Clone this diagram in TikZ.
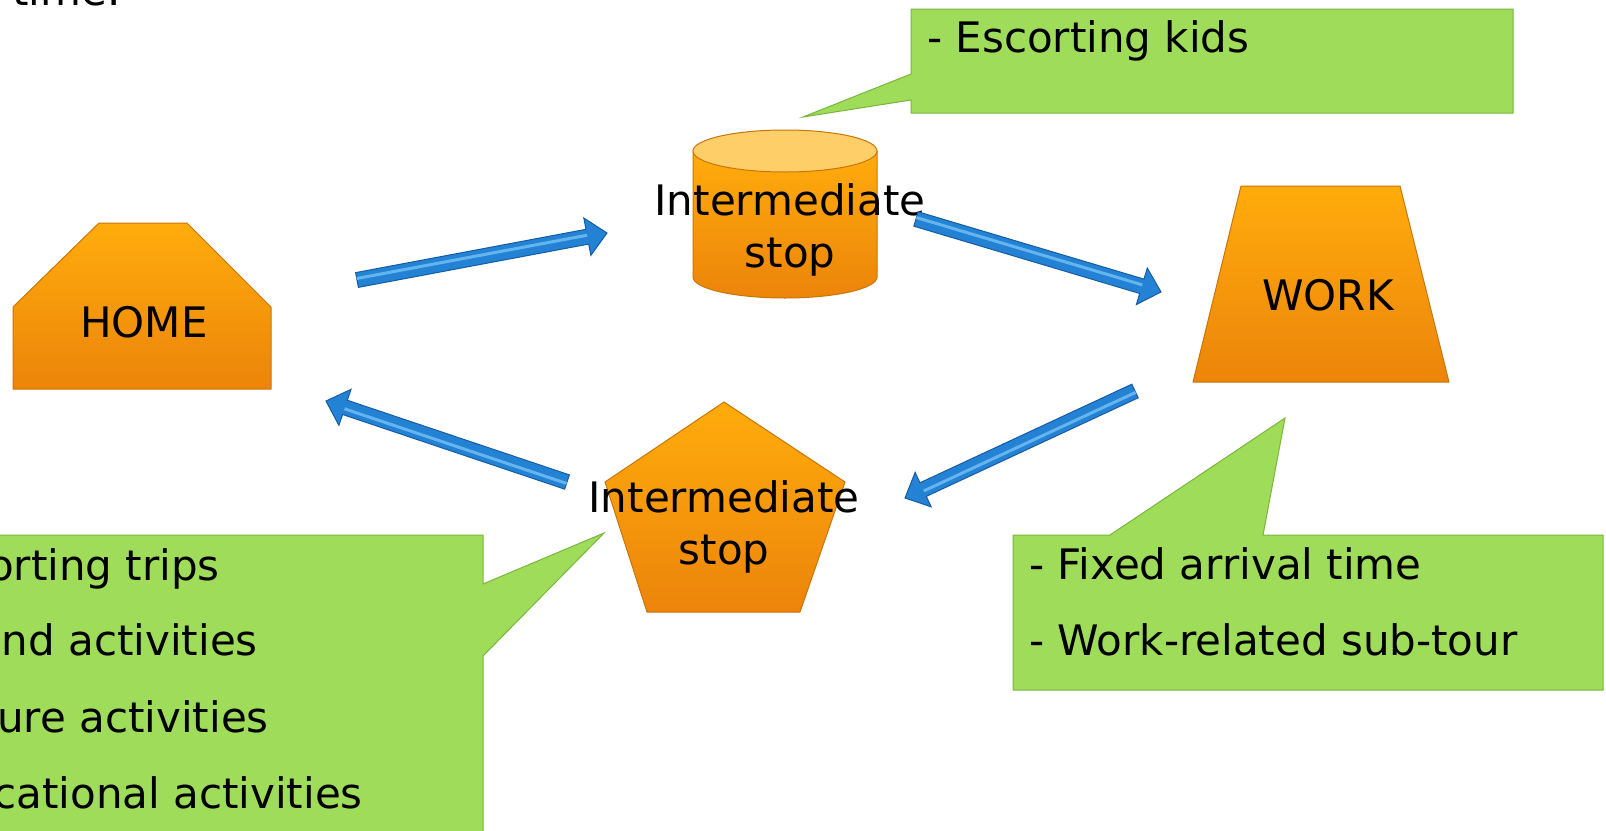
\documentclass[tikz,border=0pt]{standalone}
\usepackage{fontspec}
\setmainfont{DejaVu Sans}
\usetikzlibrary{calc}
\definecolor{orTop}{RGB}{255,172,12}
\definecolor{orBot}{RGB}{236,132,10}
\definecolor{orEdge}{RGB}{200,118,8}
\definecolor{cylTop}{RGB}{254,206,104}
\definecolor{grFill}{RGB}{158,220,90}
\definecolor{grEdge}{RGB}{122,182,62}
\definecolor{arBlue}{RGB}{36,130,212}
\definecolor{arDark}{RGB}{22,92,165}
\definecolor{arLight}{RGB}{100,180,238}
\tikzset{
  orshape/.style={top color=orTop, bottom color=orBot, draw=orEdge, line width=1pt, line join=round},
  callout/.style={fill=grFill, draw=grEdge, line width=1pt, line join=miter},
  lbl/.style={inner sep=0pt, font=\fontsize{42}{52}\selectfont},
  arrowbody/.style={fill=arBlue, draw=arDark, line width=1pt, line join=miter},
  arrowhi/.style={draw=arLight, line width=3pt, line cap=butt},
}
\newcommand\blockarrow[2]{%
  \coordinate (#1-hb) at ($(#2)!20pt!(#1)$);
  \filldraw[arrowbody] ($(#1)!7.5pt!90:(#2)$) -- ($(#1-hb)!7.5pt!90:(#2)$) -- ($(#1-hb)!19pt!90:(#2)$) -- (#2) -- ($(#1-hb)!19pt!-90:(#2)$) -- ($(#1-hb)!7.5pt!-90:(#2)$) -- ($(#1)!7.5pt!-90:(#2)$) -- cycle;
  \draw[arrowhi] ($(#1)!1.5pt!90:(#2)$) -- ($(#1-hb)!1.5pt!90:(#2)$);
}
\begin{document}
\begin{tikzpicture}[x=1pt,y=-1pt]
\useasboundingbox (0,0) rectangle (1606,830);
\fill[white] (0,0) rectangle (1606,830);
\clip (0,0) rectangle (1606,830);

% top-left cut text
\node[lbl, anchor=base west] (timetxt) at (12,5) {time.};

% callouts
\filldraw[callout] (911,9) -- (1513,9) -- (1513,113) -- (911,113) -- (911,100) -- (803,117) -- (911,74) -- cycle;
\node[lbl, anchor=base west] (kids) at (927,52) {- Escorting kids};

\filldraw[callout] (-10,535) -- (483,535) -- (483,584) -- (604,533) -- (483,656) -- (483,840) -- (-10,840) -- cycle;
\node[lbl, anchor=base east] (b1) at (220,580) {orting trips};
\node[lbl, anchor=base east] (b2) at (258,655) {nd activities};
\node[lbl, anchor=base east] (b3) at (269,732) {ure activities};
\node[lbl, anchor=base east] (b4) at (363,808) {cational activities};

\filldraw[callout] (1013,535) -- (1110,535) -- (1285,418) -- (1263,535) -- (1603,535) -- (1603,690) -- (1013,690) -- cycle;
\node[lbl, anchor=base west] (c1) at (1029,579) {- Fixed arrival time};
\node[lbl, anchor=base west] (c2) at (1029,655) {- Work-related sub-tour};

% HOME
\draw[orshape] (13,389) -- (13,307) -- (99,223) -- (187,223) -- (271,307) -- (271,389) -- cycle;
\node[lbl, anchor=base] (home) at (144,337) {HOME};

% cylinder stop
\draw[orshape] (693,151) -- (693,277) .. controls (693,288.6) and (734.2,298) .. (785,298) .. controls (835.8,298) and (877,288.6) .. (877,277) -- (877,151) -- cycle;
\filldraw[fill=cylTop, draw=orEdge, line width=1pt] (785,151) ellipse [x radius=92, y radius=21];
\node[lbl, align=center] (stopA) at (790,230) {Intermediate\\stop};

% WORK
\draw[orshape] (1241,186) -- (1400,186) -- (1449,382) -- (1193,382) -- cycle;
\node[lbl, anchor=base] (work) at (1328,310) {WORK};

% pentagon stop
\draw[orshape] (724,402) -- (845,482) -- (800,612) -- (647,612) -- (605,482) -- cycle;
\node[lbl, align=center] (stopB) at (724,527) {Intermediate\\stop};

% arrows
\coordinate (a1t) at (357,280); \coordinate (a1h) at (607,233);
\coordinate (a2t) at (916,219); \coordinate (a2h) at (1161,292);
\coordinate (a3t) at (1135,391); \coordinate (a3h) at (905,498);
\coordinate (a4t) at (567,482); \coordinate (a4h) at (326,401);
\blockarrow{a1t}{a1h}
\blockarrow{a2t}{a2h}
\blockarrow{a3t}{a3h}
\blockarrow{a4t}{a4h}
\end{tikzpicture}
\end{document}
